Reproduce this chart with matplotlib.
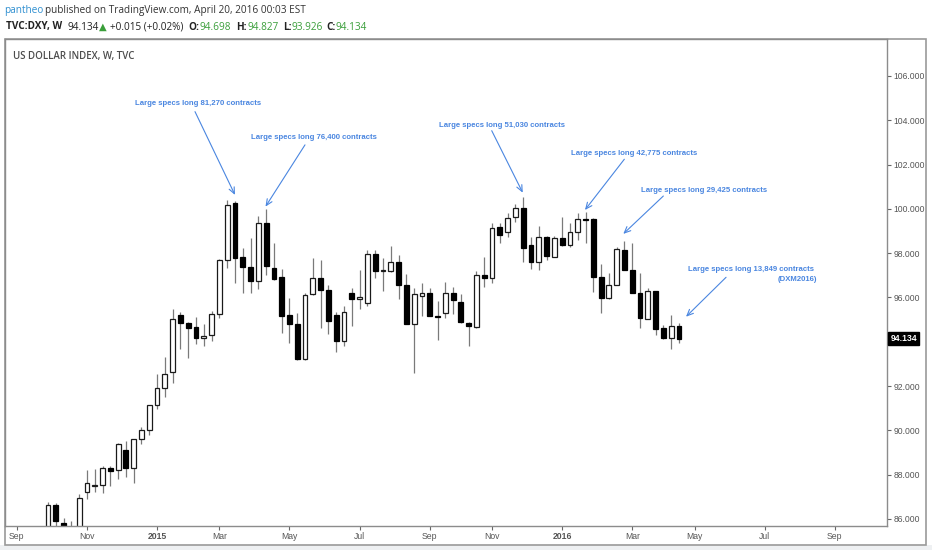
import numpy as np
import pandas as pd
import matplotlib
matplotlib.use("Agg")
import matplotlib.pyplot as plt
from matplotlib.patches import Rectangle

# weekly DXY candles, week of 2014-09-29 .. 2016-04-18
opens = [85.63, 86.63, 85.81, 85.35, 85.60, 87.23, 87.50, 87.52, 88.29, 88.21,
         89.10, 88.32, 89.60, 90.02, 91.13, 91.93, 92.62, 95.20, 94.85, 94.65,
         94.16, 94.29, 95.24, 97.69, 100.25, 97.82, 97.36, 96.75, 99.35, 97.32,
         96.91, 95.21, 94.79, 93.21, 96.16, 96.89, 96.34, 95.21, 94.04, 96.22,
         95.93, 95.74, 97.96, 97.18, 97.21, 97.59, 96.56, 94.79, 96.08, 96.19,
         95.16, 95.32, 96.22, 95.81, 94.84, 94.65, 97.02, 96.89, 99.20, 98.97,
         99.62, 100.05, 98.36, 97.62, 98.72, 97.84, 98.67, 98.37, 98.94, 99.52,
         99.53, 96.94, 95.96, 96.56, 98.12, 97.24, 96.19, 95.02, 96.29, 94.64,
         94.16, 94.698]
highs = [86.75, 86.70, 86.03, 85.92, 87.12, 88.21, 88.24, 88.39, 88.39, 89.44,
         89.53, 89.61, 90.14, 91.15, 92.53, 93.30, 95.48, 95.36, 94.91, 95.13,
         94.80, 95.39, 97.75, 100.40, 100.35, 98.22, 98.67, 99.68, 99.98, 98.45,
         97.27, 95.96, 95.29, 96.22, 97.77, 97.69, 96.57, 95.36, 95.62, 96.42,
         97.24, 98.14, 98.14, 97.77, 98.34, 97.92, 97.06, 96.42, 96.64, 96.42,
         95.86, 96.71, 96.49, 96.15, 94.91, 97.20, 97.81, 99.35, 99.35, 99.83,
         100.21, 100.52, 98.74, 99.24, 98.76, 98.76, 99.65, 99.35, 99.80, 99.85,
         99.58, 97.50, 97.12, 98.30, 98.56, 98.45, 97.09, 96.41, 96.29, 94.76,
         95.21, 94.827]
lows = [85.40, 85.70, 84.90, 85.00, 85.50, 86.89, 87.23, 87.19, 87.50, 87.80,
        87.91, 87.64, 89.39, 89.79, 90.95, 91.52, 92.15, 93.67, 93.28, 93.90,
        93.81, 94.05, 95.06, 97.32, 96.64, 96.19, 96.19, 96.37, 97.02, 96.79,
        94.41, 93.93, 93.18, 93.18, 96.11, 94.64, 94.35, 93.55, 93.83, 94.69,
        95.47, 95.62, 96.90, 96.29, 97.17, 95.93, 94.79, 92.61, 95.17, 95.14,
        94.08, 95.06, 95.25, 94.84, 93.82, 94.61, 96.46, 96.64, 98.45, 98.75,
        99.42, 97.62, 97.27, 97.24, 97.71, 97.81, 98.32, 98.27, 98.60, 98.47,
        96.26, 95.29, 95.93, 96.56, 97.24, 96.19, 94.61, 95.02, 94.31, 94.11,
        93.66, 93.926]
closes = [86.63, 85.92, 85.30, 85.60, 86.93, 87.61, 87.54, 88.29, 88.18, 89.37,
          88.32, 89.61, 90.02, 91.15, 91.90, 92.53, 95.02, 94.84, 94.61, 94.16,
          94.25, 95.24, 97.69, 100.18, 97.77, 97.36, 96.75, 99.35, 97.42, 96.84,
          95.18, 94.79, 93.21, 96.11, 96.87, 96.34, 94.94, 94.04, 95.36, 95.93,
          96.04, 97.96, 97.21, 97.20, 97.59, 96.56, 94.79, 96.14, 96.19, 95.17,
          95.12, 96.22, 95.89, 94.87, 94.72, 97.02, 96.89, 99.12, 98.82, 99.58,
          100.05, 98.22, 97.62, 98.72, 97.87, 98.67, 98.37, 98.94, 99.53, 99.49,
          96.91, 95.96, 96.56, 98.18, 97.24, 96.19, 95.06, 96.29, 94.57, 94.16,
          94.73, 94.134]
first_week = "2014-09-29"

# annotations: text, text pos, arrow start, arrow end (week index, price)
notes = [
    ("Large specs long 81,270 contracts", (19.2, 104.74), (18.87, 104.39), (24.0, 100.63)),
    ("Large specs long 76,400 contracts", (34.15, 103.21), (32.99, 102.89), (27.92, 100.10)),
    ("Large specs long 51,030 contracts", (58.28, 103.76), (56.96, 103.53), (60.94, 100.73)),
    ("Large specs long 42,775 contracts", (75.22, 102.51), (73.98, 102.24), (68.93, 99.95)),
    ("Large specs long 29,425 contracts", (84.21, 100.82), (78.99, 100.58), (73.85, 98.87)),
    ("Large specs long 13,849 contracts", (90.24, 97.24), (87.04, 96.91), (81.9, 95.13)),
]
y_ticks = [86, 88, 90, 92, 94, 96, 98, 100, 102, 104, 106]

W, H = 932, 550
BLUE = "#4a86e0"
GREEN = "#3a9e3a"

fig = plt.figure(figsize=(W / 100, H / 100), dpi=100)
fig.patch.set_facecolor("white")


def fx(x):
    return x / W


def fy(y):
    return 1 - y / H


# outer frame + bottom strip (behind the axes)
fig.patches.append(Rectangle((0, 0), 1, fy(545), transform=fig.transFigure,
                             facecolor="#eef0f2", edgecolor="none", zorder=-2))
fig.patches.append(Rectangle((fx(5), fy(545)), fx(921), 506 / H, transform=fig.transFigure,
                             facecolor="white", edgecolor="#9a9a9a", lw=1.2, zorder=-1))

ax = fig.add_axes([fx(5), fy(526), fx(882), 487 / H])
ax.set_facecolor("white")

o = np.array(opens)
h = np.array(highs)
l = np.array(lows)
c = np.array(closes)
x = np.arange(len(o))
up = c >= o

ax.vlines(x, l, h, color="#7a7a7a", lw=0.9, zorder=1)
body_lo = np.minimum(o, c)
body_h = np.maximum(np.abs(c - o), 0.04)
ax.bar(x[up], body_h[up], bottom=body_lo[up], width=0.62, color="white",
       edgecolor="#1a1a1a", lw=0.9, zorder=2)
ax.bar(x[~up], body_h[~up], bottom=body_lo[~up], width=0.62, color="black",
       edgecolor="black", lw=0.9, zorder=2)

ax.set_xlim(-5.52, 107.7)
ax.set_ylim(85.68, 107.67)

# month ticks on the first weekly bar of every second month
start = pd.Timestamp(first_week)
tick_pos, tick_lab = [], []
prev = None
for k in range(-6, 110):
    d = start + pd.Timedelta(weeks=k)
    key = (d.year, d.month)
    if prev is not None and key != prev and d.month in (1, 3, 5, 7, 9, 11):
        tick_pos.append(k)
        tick_lab.append(str(d.year) if d.month == 1 else d.strftime("%b"))
    prev = key
ax.set_xticks(tick_pos)
ax.set_xticklabels(tick_lab)
for t in ax.get_xticklabels():
    if t.get_text().isdigit():
        t.set_fontweight("bold")

ax.yaxis.tick_right()
ax.set_yticks(y_ticks)
# the 94 label sits under the last-price tag
ax.set_yticklabels(["" if v == 94 else f"{v:.3f}" for v in y_ticks])
ax.tick_params(axis="both", direction="out", length=3, width=0.8, color="#666666",
               labelcolor="#555555", labelsize=6.2, pad=1.5)
for t in ax.get_xticklabels() + ax.get_yticklabels():
    t.set_fontfamily("Liberation Sans")
for s in ax.spines.values():
    s.set_color("#8c8c8c")
    s.set_linewidth(1.0)

# annotations
for txt, tpos, a0, a1 in notes:
    ax.text(tpos[0], tpos[1], txt, ha="center", va="center", color=BLUE,
            fontsize=5.6, fontweight="bold", family="Liberation Sans", zorder=5)
    ax.annotate("", xy=a1, xytext=a0,
                arrowprops=dict(arrowstyle="->,head_length=0.45,head_width=0.2",
                                color=BLUE, lw=0.8, shrinkA=0, shrinkB=0), zorder=5)
ax.text(98.67, 96.82, "(DXM2016)", ha="right", va="center", color=BLUE,
        fontsize=5.6, fontweight="bold", family="Liberation Sans", zorder=5)

# last price tag
last = closes[-1]
ax.annotate(f"{last:.3f}", xy=(1.0, last), xycoords=("axes fraction", "data"),
            xytext=(2.5, 0), textcoords="offset points", ha="left", va="center",
            color="white", fontsize=6.2, fontweight="bold", family="Liberation Sans",
            bbox=dict(boxstyle="square,pad=0.25", fc="black", ec="black"),
            annotation_clip=False, zorder=6)

# chart title
fig.text(fx(13), fy(56), "US DOLLAR INDEX, W, TVC", ha="left", va="center",
         color="#4d4d4d", fontsize=7.0, family="Open Sans", fontweight="semibold")

# header lines
hf = ["Open Sans", "DejaVu Sans"]
fig.text(fx(4), fy(11), "pantheo", ha="left", va="center", color="#2f8fd0",
         fontsize=7.2, family=hf)
fig.text(fx(45), fy(11), "published on TradingView.com, April 20, 2016 00:03 EST",
         ha="left", va="center", color="#333333", fontsize=7.2, family=hf)

pieces = [
    (6, "TVC:DXY, W", "#222222", "bold"),
    (68, "94.134", "#222222", "normal"),
    (99, "\u25b2", GREEN, "normal"),
    (110, "+0.015 (+0.02%)", "#222222", "normal"),
    (188, "O:", "#222222", "bold"),
    (200, "94.698", GREEN, "normal"),
    (236, "H:", "#222222", "bold"),
    (247, "94.827", GREEN, "normal"),
    (283, "L:", "#222222", "bold"),
    (291, "93.926", GREEN, "normal"),
    (326, "C:", "#222222", "bold"),
    (336, "94.134", GREEN, "normal"),
]
for px, s, col, wt in pieces:
    fig.text(fx(px), fy(27), s, ha="left", va="center", color=col,
             fontsize=7.2, family=hf, fontweight=wt)

fig.savefig("out.png", dpi=100)
